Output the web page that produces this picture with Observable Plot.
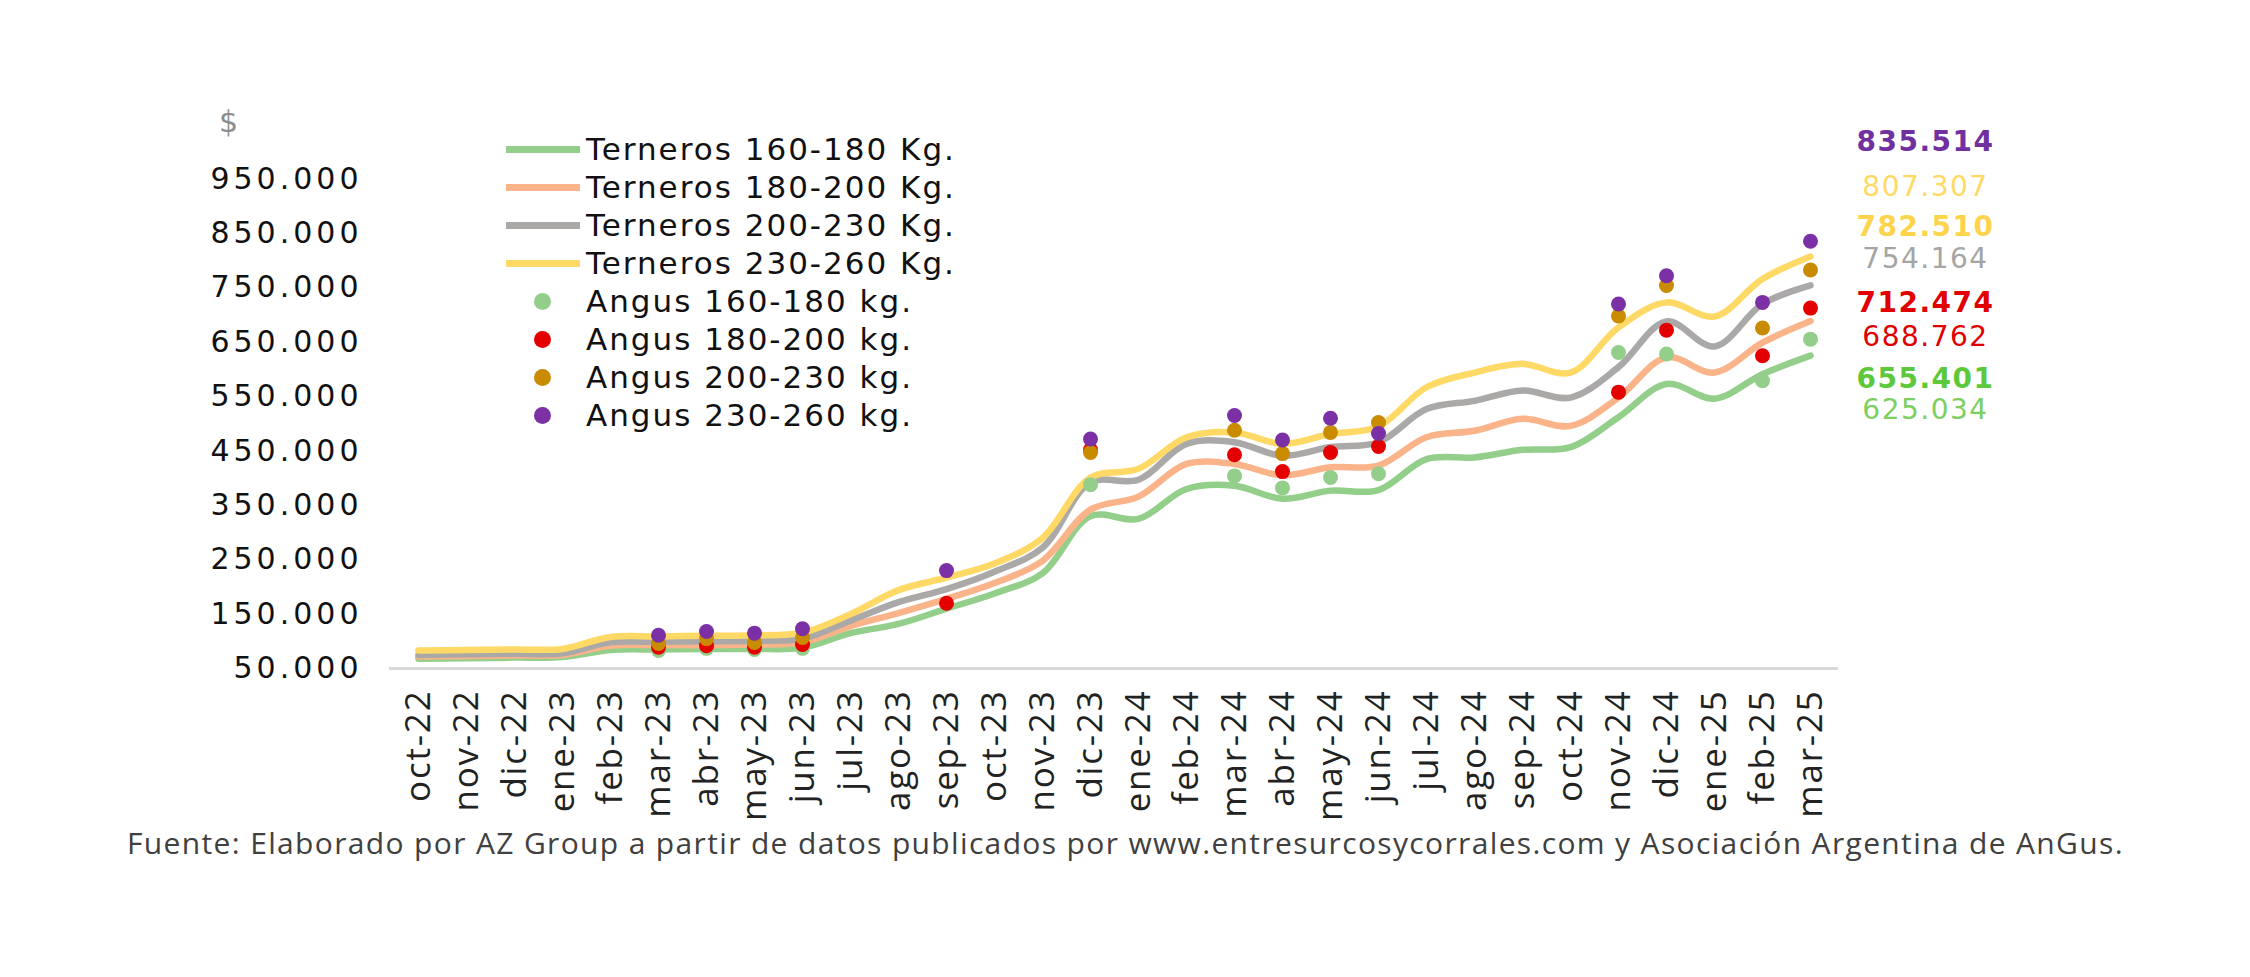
<!DOCTYPE html>
<html><head><meta charset="utf-8">
<script src="https://cdn.jsdelivr.net/npm/d3@7"></script>
<script src="https://cdn.jsdelivr.net/npm/@observablehq/plot@0.6"></script>
<style>
body{margin:0;background:#fff;}
#wrap{position:relative;width:2250px;height:977px;background:#fff;overflow:hidden;}
#wrap svg{position:absolute;left:0;top:0;}
g[aria-label="y-axis tick label"]{letter-spacing:4px;}
g[aria-label="x-axis tick label"]{letter-spacing:1.8px;}
g.endlab{letter-spacing:1.5px;}
.legend{position:absolute;left:506px;top:130px;font-family:"DejaVu Sans",sans-serif;font-size:31px;letter-spacing:2px;color:#111;}
.row{height:38px;display:flex;align-items:center;}
.sw{width:74px;height:38px;position:relative;margin-right:6px;flex:none;}
.sw .ln{position:absolute;left:0;top:15.5px;width:74px;height:7px;}
.sw .dt{position:absolute;left:27.5px;top:10.5px;width:17px;height:17px;border-radius:50%;}
.dollar{position:absolute;left:219px;top:104px;font-family:"DejaVu Sans",sans-serif;font-size:30px;color:#8c8c8c;}
.caption{position:absolute;left:127px;top:828px;font-family:"Open Sans",sans-serif;font-size:30px;line-height:30px;letter-spacing:1.35px;color:#404040;white-space:nowrap;}
</style></head>
<body><div id="wrap"></div>
<script>
// ---- data ----
const months = ["oct-22","nov-22","dic-22","ene-23","feb-23","mar-23","abr-23","may-23","jun-23","jul-23","ago-23","sep-23","oct-23","nov-23","dic-23","ene-24","feb-24","mar-24","abr-24","may-24","jun-24","jul-24","ago-24","sep-24","oct-24","nov-24","dic-24","ene-25","feb-25","mar-25"];
const terneros160_180 = [68000,69000,70000,71000,84000,85000,86000,86000,88000,115000,132000,160000,188000,225000,330000,325000,380000,386000,362000,377000,378000,435000,438000,452000,457000,512000,573000,546000,591000,625034];
const terneros180_200 = [72000,73000,74000,75000,92000,93000,93000,94000,98000,128000,152000,178000,207000,248000,342000,366000,426000,426000,405000,420000,423000,475000,487000,509000,496000,548000,622000,594000,649000,688762];
const terneros200_230 = [75000,76000,77000,78000,98000,99000,100000,101000,105000,138000,172000,196000,228000,272000,392000,397000,463000,466000,441000,457000,466000,527000,542000,561000,548000,604000,688000,642000,720000,754164];
const terneros230_260 = [83000,84000,85000,86000,108000,109000,110000,111000,116000,150000,194000,217000,243000,290000,401000,417000,475000,484000,463000,481000,495000,567000,594000,610000,594000,677000,723000,697000,766000,807307];
const angusMonths = ["mar-23","abr-23","may-23","jun-23","sep-23","dic-23","mar-24","abr-24","may-24","jun-24","nov-24","dic-24","feb-25","mar-25"];
const angus160_180 = [83000,87000,85000,87000,null,388000,404000,382000,401000,408000,631000,628000,579000,655401];
const angus180_200 = [89000,92000,89000,94000,170000,452000,443000,412000,447000,458000,558000,672000,625000,712474];
const angus200_230 = [96000,105000,98000,107000,null,447000,488000,445000,484000,502000,698000,754000,676000,782510];
const angus230_260 = [111000,118000,115000,123000,230000,472000,515000,470000,510000,482000,720000,772000,723000,835514];
const yTicks = [50000,150000,250000,350000,450000,550000,650000,750000,850000,950000];
const endLabelValues = [835514,807307,782510,754164,712474,688762,655401,625034];
const seriesNames = ["Terneros 160-180 Kg.","Terneros 180-200 Kg.","Terneros 200-230 Kg.","Terneros 230-260 Kg.","Angus 160-180 kg.","Angus 180-200 kg.","Angus 200-230 kg.","Angus 230-260 kg."];
const captionText = "Fuente: Elaborado por AZ Group a partir de datos publicados por www.entresurcosycorrales.com y Asociación Argentina de AnGus.";

// ---- styles ----
const lineColors = ["#93CF8A","#FBB38A","#ABA8A8","#FFD966"];
const dotColors = ["#93CF8A","#E50000","#C98B00","#7B30A5"];
const endStyles = [
  {fill:"#7030A0", weight:"bold", dy:-99},
  {fill:"#FFD966", weight:"normal", dy:-69},
  {fill:"#FFD44D", weight:"bold", dy:-43},
  {fill:"#A5A5A5", weight:"normal", dy:-26},
  {fill:"#E00000", weight:"bold", dy:-5.5},
  {fill:"#E00000", weight:"normal", dy:16.5},
  {fill:"#5EC83C", weight:"bold", dy:40},
  {fill:"#7DCF5F", weight:"normal", dy:54}
];

const es = d3.formatLocale({decimal:",", thousands:".", grouping:[3], currency:["$",""]});
const fmt = es.format(",.0f");

const lineSeries = [terneros160_180, terneros180_200, terneros200_230, terneros230_260];
const dotSeries = [angus160_180, angus180_200, angus200_230, angus230_260];

const marks = [];
marks.push(Plot.ruleY([50000], {stroke:"#d9d9d9", strokeWidth:3}));
lineSeries.forEach((vals, i) => {
  const rows = months.map((m, j) => ({month:m, value:vals[j]}));
  marks.push(Plot.line(rows, {x:"month", y:"value", stroke:lineColors[i], strokeWidth:6.5, curve:"catmull-rom"}));
});
dotSeries.forEach((vals, i) => {
  const rows = angusMonths.map((m, j) => ({month:m, value:vals[j]})).filter(d => d.value != null);
  marks.push(Plot.dot(rows, {x:"month", y:"value", r:7.5, fill:dotColors[i], stroke:"none"}));
});
endLabelValues.forEach((v, i) => {
  const s = endStyles[i];
  marks.push(Plot.text([{month:months[months.length-1], value:v}], {
    x:"month", y:"value", text:d => fmt(d.value), dx:115, dy:s.dy,
    textAnchor:"middle", fill:s.fill, fontWeight:s.weight, fontSize:28,
    fontFamily:"DejaVu Sans", lineAnchor:"middle", className:"endlab"
  }));
});
marks.push(Plot.axisY({ticks:yTicks, tickFormat:fmt, tickSize:0, tickPadding:27, fontSize:30, fontFamily:"DejaVu Sans", fill:"#111", label:null}));
marks.push(Plot.axisX({tickRotate:-90, tickSize:0, tickPadding:21, fontSize:35, fontFamily:"Open Sans", fill:"#222", label:null}));

const chart = Plot.plot({
  width:2250, height:830,
  marginLeft:389, marginRight:412, marginTop:124, marginBottom:162,
  style:{background:"transparent", overflow:"visible"},
  x:{type:"point", domain:months, padding:0.5, label:null},
  y:{domain:[50000,1050000], label:null},
  marks
});
const wrap = document.getElementById("wrap");
wrap.appendChild(chart);

// legend
const leg = document.createElement("div");
leg.className = "legend";
seriesNames.forEach((name, i) => {
  const row = document.createElement("div");
  row.className = "row";
  const sw = document.createElement("div");
  sw.className = "sw";
  const mark = document.createElement("div");
  if (i < 4) { mark.className = "ln"; mark.style.background = lineColors[i]; }
  else { mark.className = "dt"; mark.style.background = dotColors[i-4]; }
  sw.appendChild(mark);
  const t = document.createElement("span");
  t.textContent = name;
  row.appendChild(sw); row.appendChild(t);
  leg.appendChild(row);
});
wrap.appendChild(leg);

const dollar = document.createElement("div");
dollar.className = "dollar"; dollar.textContent = "$";
wrap.appendChild(dollar);

const cap = document.createElement("div");
cap.className = "caption"; cap.textContent = captionText;
wrap.appendChild(cap);
</script></body></html>
